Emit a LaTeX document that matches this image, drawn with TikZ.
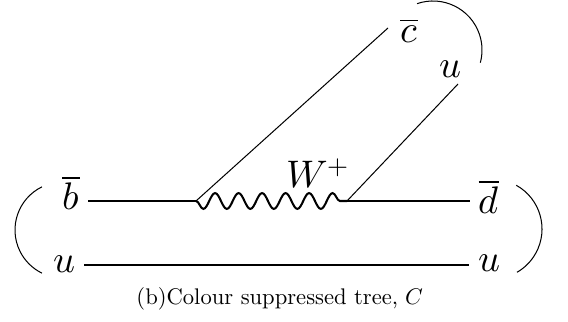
\documentclass[tikz,border=0pt]{standalone}
\usepackage{amsmath}
\usepackage{unicode-math}
\setmathfont{Latin Modern Math}
\usepackage{tikz}
\usetikzlibrary{decorations.pathmorphing, calc}

\begin{document}
\begin{tikzpicture}[
            x=0.4425pt, y=-0.4425pt,
            quark/.style={font=\fontsize{17}{20}\selectfont, inner sep=1pt, anchor=base},
            fermion/.style={draw=black, line width=0.45pt},
            boson/.style={draw=black, line width=0.9pt, decorate, decoration={snake, mirror, segment length=10.4pt, amplitude=3.5pt}},
            pairing/.style={draw=black, line width=0.45pt}
            ]

            \useasboundingbox (0,0) rectangle (568,322);

            % Vertices
            \coordinate (v1) at (196,201);
            \coordinate (v2) at (347,201);

            % Leg ends
            \coordinate (bEnd) at (88,201);
            \coordinate (uLEnd) at (84,265);
            \coordinate (uREnd) at (469,265);
            \coordinate (dEnd) at (470,201);
            \coordinate (cEnd) at (388,28);
            \coordinate (uTEnd) at (458,84);

            % Labels
            \node[quark] (bbar) at (71,210) {$\overline{b}$};
            \node[quark] (uL) at (64,273) {$u$};
            \node[quark] (cbar) at (409,43) {$\overline{c}$};
            \node[quark] (uT) at (450,78) {$u$};
            \node[quark] (dbar) at (489,214) {$\overline{d}$};
            \node[quark] (uR) at (489,272) {$u$};
            \node[quark] (W) at (318,188) {$W^{+}$};

            % Quark lines
            \draw[fermion] (bEnd) -- (v1);
            \draw[fermion] (v1) -- (cEnd);
            \draw[fermion] (v2) -- (uTEnd);
            \draw[fermion] (v2) -- (dEnd);
            \draw[fermion] (uLEnd) -- (uREnd);

            % W exchange
            \draw[boson] (v1) -- (v2);

            % Colour pairings
            \draw[pairing] (433,50) ++(-109:49) arc[start angle=-109, end angle=15, radius=49];
            \draw[pairing] (492,229) ++(-61:50) arc[start angle=-61, end angle=60, radius=50];
            \draw[pairing] (63,230) ++(-116:48) arc[start angle=-116, end angle=-244, radius=48];

            % Caption
            \node[anchor=base] (caption) at (280,305) {(b)Colour suppressed tree, $C$};

        \end{tikzpicture}
\end{document}
